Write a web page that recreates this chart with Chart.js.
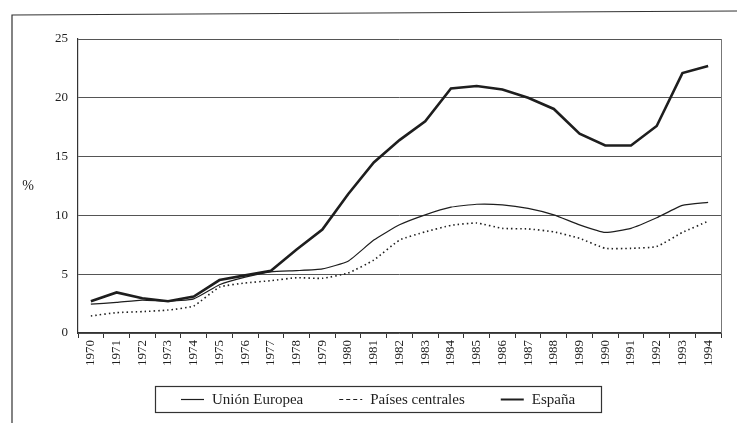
<!DOCTYPE html>
<html lang="es">
<head>
<meta charset="UTF-8">
<title>Tasa de paro</title>
<style>
    body { margin: 0; background: #fff; }
    #wrap { width: 737px; height: 423px; position: relative; }
</style>
</head>
<body>
<div id="wrap"><canvas id="chart"></canvas></div>
<script src="https://cdn.jsdelivr.net/npm/chart.js"></script>
<script>
    const years = ['1970','1971','1972','1973','1974','1975','1976','1977','1978','1979','1980','1981','1982',
        '1983','1984','1985','1986','1987','1988','1989','1990','1991','1992','1993','1994'];
    const unionEuropea = [2.45, 2.6, 2.8, 2.7, 2.9, 4.1, 4.75, 5.2, 5.3, 5.45, 6.1, 7.9, 9.2,
        10.05, 10.7, 10.95, 10.9, 10.6, 10.05, 9.2, 8.55, 8.9, 9.8, 10.85, 11.1];
    const paisesCentrales = [1.45, 1.73, 1.82, 1.95, 2.3, 3.9, 4.25, 4.45, 4.7, 4.65, 5.1, 6.2, 7.9,
        8.6, 9.15, 9.35, 8.9, 8.85, 8.6, 8.05, 7.2, 7.2, 7.35, 8.55, 9.5];
    const espana = [2.7, 3.45, 2.95, 2.7, 3.1, 4.5, 4.9, 5.3, 7.1, 8.8, 11.8, 14.5, 16.4,
        18.0, 20.8, 21.0, 20.7, 20.0, 19.05, 16.95, 15.95, 15.95, 17.6, 22.1, 22.7];
    const yTicks = [0, 5, 10, 15, 20, 25];

    const ink = '#1e1e1e';
    const serif = 'Liberation Serif';
    // trazo de cada serie en la leyenda (la de países centrales va en guiones)
    const legendDash = [[], [4, 3], []];
    const legendWidth = [1.2, 1.2, 2];

    // marco exterior, borde derecho, "%" y leyenda en caja
    const framePlugin = {
        id: 'frame',
        afterDraw(chart) {
            const ctx = chart.ctx;
            const a = chart.chartArea;
            ctx.save();
            ctx.strokeStyle = '#333';
            ctx.lineWidth = 1.2;
            ctx.beginPath();
            ctx.moveTo(12, 423);
            ctx.lineTo(12, 15);
            ctx.lineTo(737, 11);
            ctx.stroke();

            ctx.strokeStyle = '#777';
            ctx.lineWidth = 1;
            ctx.beginPath();
            ctx.moveTo(a.right + 0.5, a.top);
            ctx.lineTo(a.right + 0.5, a.bottom);
            ctx.stroke();

            ctx.fillStyle = ink;
            ctx.font = '14px "' + serif + '"';
            ctx.textAlign = 'center';
            ctx.textBaseline = 'middle';
            ctx.fillText('%', 28, (a.top + a.bottom) / 2);

            // leyenda
            ctx.font = '15px "' + serif + '"';
            const lineLen = 23, lineGap = 8, itemGap = 36, pad = 26;
            const sets = chart.data.datasets;
            const widths = sets.map(d => lineLen + lineGap + ctx.measureText(d.label).width);
            const total = widths.reduce((s, w) => s + w, 0) + itemGap * (sets.length - 1) + pad * 2;
            const boxLeft = Math.round(378 - total / 2);
            const boxTop = 386, boxH = 26;
            ctx.strokeStyle = '#333';
            ctx.lineWidth = 1.2;
            ctx.strokeRect(boxLeft + 0.5, boxTop + 0.5, Math.round(total), boxH);
            let x = boxLeft + pad;
            const cy = boxTop + boxH / 2 + 0.5;
            ctx.textAlign = 'left';
            sets.forEach((d, i) => {
                ctx.setLineDash(legendDash[i]);
                ctx.lineWidth = legendWidth[i];
                ctx.strokeStyle = ink;
                ctx.beginPath();
                ctx.moveTo(x, cy);
                ctx.lineTo(x + lineLen, cy);
                ctx.stroke();
                ctx.setLineDash([]);
                ctx.fillText(d.label, x + lineLen + lineGap, cy + 1);
                x += widths[i] + itemGap;
            });
            ctx.restore();
        }
    };

    new Chart(document.getElementById('chart'), {
        type: 'line',
        data: {
            labels: years,
            datasets: [
                {
                    label: 'Unión Europea',
                    data: unionEuropea,
                    borderColor: ink,
                    borderWidth: 1.2,
                    pointRadius: 0,
                    tension: 0.15
                },
                {
                    label: 'Países centrales',
                    data: paisesCentrales,
                    borderColor: ink,
                    borderWidth: 1.6,
                    borderDash: [1.5, 3],
                    pointRadius: 0,
                    tension: 0.15
                },
                {
                    label: 'España',
                    data: espana,
                    borderColor: ink,
                    borderWidth: 2.6,
                    pointRadius: 0,
                    tension: 0
                }
            ]
        },
        options: {
            responsive: true,
            maintainAspectRatio: false,
            animation: false,
            layout: { padding: { top: 39, right: 16, bottom: 40, left: 0 } },
            scales: {
                x: {
                    offset: true,
                    grid: {
                        offset: true,
                        drawOnChartArea: false,
                        drawTicks: true,
                        tickLength: 5,
                        color: '#333'
                    },
                    border: { display: true, color: '#333', width: 1.2 },
                    ticks: {
                        color: ink,
                        maxRotation: 90,
                        minRotation: 90,
                        autoSkip: false,
                        padding: 2,
                        font: { family: serif, size: 13 }
                    },
                    afterFit(scale) { scale.height = 50; }
                },
                y: {
                    min: 0,
                    max: 25,
                    afterBuildTicks(scale) {
                        scale.ticks = yTicks.map(v => ({ value: v }));
                    },
                    grid: {
                        color: '#555',
                        lineWidth: 1,
                        drawTicks: false
                    },
                    border: { display: true, color: '#333', width: 1.2 },
                    ticks: {
                        color: ink,
                        padding: 10,
                        font: { family: serif, size: 13 }
                    },
                    afterFit(scale) { scale.width = 78; }
                }
            },
            plugins: {
                legend: { display: false },
                tooltip: { enabled: false }
            }
        },
        plugins: [framePlugin]
    });
</script>
</body>
</html>
